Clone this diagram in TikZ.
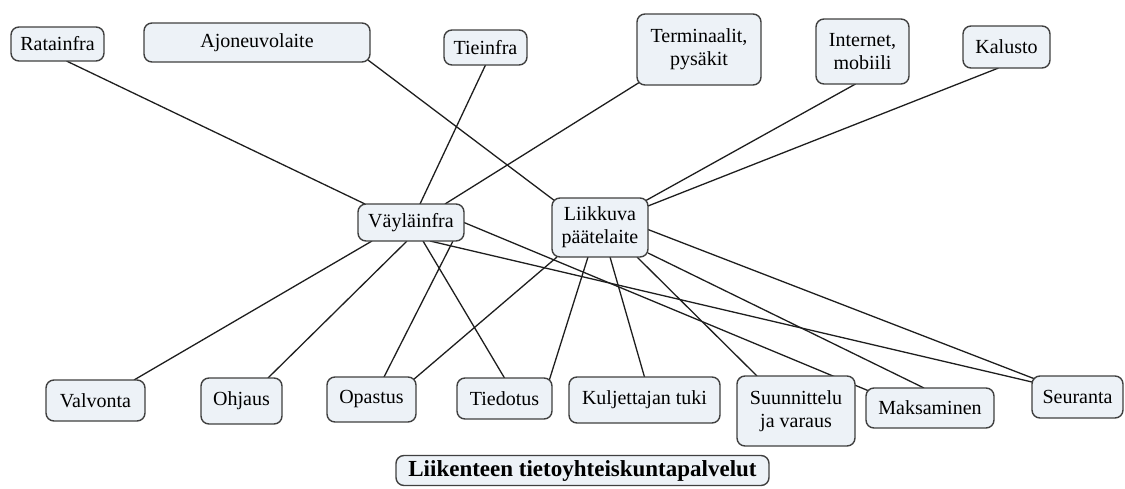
\documentclass[tikz,border=0pt]{standalone}
\usepackage{fontspec}
\setmainfont{Liberation Serif}
\usetikzlibrary{backgrounds}
\definecolor{boxfill}{HTML}{EDF2F7}
\definecolor{boxline}{HTML}{404040}
\definecolor{linkline}{HTML}{1E1E1E}
\tikzset{
  concept/.style={draw=boxline, fill=boxfill, rounded corners=8pt, line width=1.4pt,
    inner sep=0pt, outer sep=0pt, align=center, font=\fontsize{20}{23}\selectfont},
  titlebox/.style={concept, font=\fontsize{23}{26}\selectfont\bfseries},
  link/.style={draw=linkline, line width=1.3pt}
}
\begin{document}
\begin{tikzpicture}[x=1pt,y=-1pt]
\useasboundingbox (0,0) rectangle (1125,488);

% top row
\node[concept, minimum width=93pt, minimum height=34pt] (rata) at (57.5,44) {Ratainfra};
\node[concept, minimum width=226pt, minimum height=39pt] (ajo) at (257,42.5) {Ajoneuvolaite};
\node[concept, minimum width=83pt, minimum height=35pt] (tie) at (485.5,47.5) {Tieinfra};
\node[concept, minimum width=124pt, minimum height=71pt] (term) at (699,49.5) {Terminaalit,\\pysäkit};
\node[concept, minimum width=93pt, minimum height=65pt] (inet) at (862.5,51.5) {Internet,\\mobiili};
\node[concept, minimum width=87pt, minimum height=42pt] (kal) at (1006.5,47) {Kalusto};

% middle row
\node[concept, minimum width=106pt, minimum height=37pt] (vayla) at (411,222.5) {Väyläinfra};
\node[concept, minimum width=96pt, minimum height=59pt] (liik) at (600,227.5) {Liikkuva\\päätelaite};

% bottom row
\node[concept, minimum width=99pt, minimum height=41pt] (valv) at (95.5,400.5) {Valvonta};
\node[concept, minimum width=81pt, minimum height=46pt] (ohj) at (241.5,401) {Ohjaus};
\node[concept, minimum width=89pt, minimum height=45pt] (opa) at (371.5,399.5) {Opastus};
\node[concept, minimum width=95pt, minimum height=41pt] (tied) at (504.5,398.5) {Tiedotus};
\node[concept, minimum width=151pt, minimum height=46pt] (kulj) at (644.5,400) {Kuljettajan tuki};
\node[concept, minimum width=118pt, minimum height=70pt] (suun) at (796,411) {Suunnittelu\\ja varaus};
\node[concept, minimum width=128pt, minimum height=40pt] (maks) at (930,408) {Maksaminen};
\node[concept, minimum width=91pt, minimum height=42pt] (seur) at (1077.5,397) {Seuranta};

% heading
\node[titlebox, minimum width=373pt, minimum height=30pt] (title) at (582.5,470.5) {Liikenteen tietoyhteiskuntapalvelut};

\begin{pgfonlayer}{background}
  % links into the infrastructure concept
  \draw[link] ([shift={(9,0)}]rata.south) -- ([shift={(7,0)}]vayla.north west);
  \draw[link] (tie.south) -- ([shift={(9,0)}]vayla.north);
  \draw[link] ([shift={(3,-3)}]term.south west) -- ([shift={(34,0)}]vayla.north);
  % links into the mobile terminal concept
  \draw[link] ([shift={(-2,-2)}]ajo.south east) -- ([shift={(3,3)}]liik.north west);
  \draw[link] ([shift={(-7,0)}]inet.south) -- ([shift={(-3,3)}]liik.north east);
  \draw[link] ([shift={(-8,0)}]kal.south) -- ([shift={(0,8)}]liik.north east);
  % services of the infrastructure
  \draw[link] ([shift={(-39,0)}]vayla.south) -- ([shift={(-11,0)}]valv.north east);
  \draw[link] ([shift={(-4,0)}]vayla.south) -- ([shift={(-14,0)}]ohj.north east);
  \draw[link] ([shift={(42,0)}]vayla.south) -- ([shift={(-32,0)}]opa.north east);
  \draw[link] ([shift={(12,0)}]vayla.south) -- (tied.north);
  \draw[link] (vayla.east) -- ([shift={(3,3)}]maks.north west);
  \draw[link] ([shift={(19,0)}]vayla.south) -- ([shift={(0,6)}]seur.north west);
  % services of the mobile terminal
  \draw[link] ([shift={(5,0)}]liik.south west) -- ([shift={(-3,3)}]opa.north east);
  \draw[link] ([shift={(-12,0)}]liik.south) -- ([shift={(-3,3)}]tied.north east);
  \draw[link] ([shift={(10,0)}]liik.south) -- (kulj.north);
  \draw[link] ([shift={(37,0)}]liik.south) -- ([shift={(20,0)}]suun.north west);
  \draw[link] ([shift={(0,-4)}]liik.south east) -- ([shift={(-6,0)}]maks.north);
  \draw[link] ([shift={(0,2)}]liik.east) -- ([shift={(3,3)}]seur.north west);
\end{pgfonlayer}
\end{tikzpicture}
\end{document}
